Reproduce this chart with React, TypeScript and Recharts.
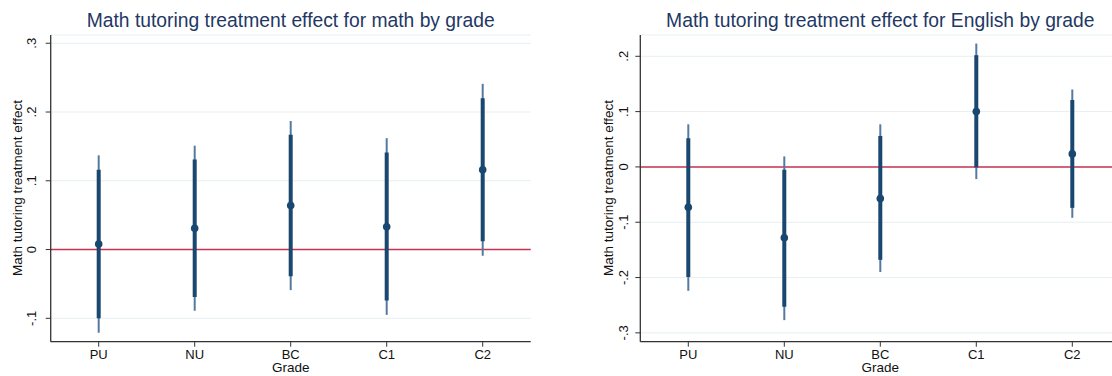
import React from 'react'
import { ComposedChart, Scatter, ErrorBar, XAxis, YAxis, CartesianGrid, ReferenceLine } from 'recharts'

const grades = ['PU', 'NU', 'BC', 'C1', 'C2']

// math outcome
const mathEst = [0.008, 0.031, 0.064, 0.033, 0.116]
const mathLo90 = [-0.1, -0.069, -0.039, -0.074, 0.012]
const mathHi90 = [0.116, 0.131, 0.167, 0.141, 0.22]
const mathLo95 = [-0.121, -0.089, -0.059, -0.095, -0.009]
const mathHi95 = [0.137, 0.151, 0.187, 0.162, 0.241]
const mathTicks = [-0.1, 0, 0.1, 0.2, 0.3]
const mathTickLabels = ['-.1', '0', '.1', '.2', '.3']

// english outcome
const engEst = [-0.073, -0.128, -0.057, 0.1, 0.0235]
const engLo90 = [-0.199, -0.253, -0.168, -0.001, -0.074]
const engHi90 = [0.052, -0.005, 0.056, 0.202, 0.121]
const engLo95 = [-0.224, -0.277, -0.19, -0.022, -0.092]
const engHi95 = [0.077, 0.019, 0.077, 0.223, 0.14]
const engTicks = [-0.3, -0.2, -0.1, 0, 0.1, 0.2]
const engTickLabels = ['-.3', '-.2', '-.1', '0', '.1', '.2']

const NAVY = '#1a476f'
const LIGHT = '#557a9f'
const FONT = '"Liberation Sans", Arial, sans-serif'

function buildRows(est, lo90, hi90, lo95, hi95) {
    return est.map((v, i) => ({
        x: i,
        y: v,
        inner: [v - lo90[i], hi90[i] - v],
        outer: [v - lo95[i], hi95[i] - v],
    }))
}

function Panel({ left, width, yAxisW, title, est, lo90, hi90, lo95, hi95, ticks, tickLabels, domain, yTitleX, tickGap }) {
    const rows = buildRows(est, lo90, hi90, lo95, hi95)
    const plotW = 480
    const centerX = yAxisW + plotW / 2
    const YTick = (p) => {
        const idx = ticks.findIndex(t => Math.abs(t - p.payload.value) < 1e-9)
        return (
            <text transform={`translate(${p.x},${p.y}) rotate(-90)`} textAnchor="middle" dominantBaseline="central"
                fontSize={13} fill="#111" fontFamily={FONT}>{tickLabels[idx]}</text>
        )
    }
    return (
        <div style={{ position: 'absolute', left, top: 0, width, height: 376 }}>
            <div style={{ position: 'absolute', left: centerX - 320, width: 640, top: 8.5, lineHeight: '24px', textAlign: 'center', fontSize: 19.3, color: '#1f3864', fontFamily: FONT, whiteSpace: 'nowrap' }}>{title}</div>
            <div style={{ position: 'absolute', left: yTitleX, top: 188, transform: 'translate(-50%,-50%) rotate(-90deg)', fontSize: 13.5, color: '#111', fontFamily: FONT, whiteSpace: 'nowrap', lineHeight: '16px' }}>Math tutoring treatment effect</div>
            <div style={{ position: 'absolute', left: centerX - 60, width: 120, top: 360.2, lineHeight: '16px', textAlign: 'center', fontSize: 13.5, color: '#111', fontFamily: FONT }}>Grade</div>
            <ComposedChart width={width} height={376} data={rows}
                margin={{ top: 35, right: width - yAxisW - plotW, bottom: 14.3, left: 0 }}>
                <CartesianGrid horizontal vertical={false} stroke="#e6eff1" strokeWidth={1} />
                <XAxis type="number" dataKey="x" domain={[-0.5, 4.5]} ticks={[0, 1, 2, 3, 4]} interval={0}
                    tickFormatter={(v) => grades[v]} height={20} tickSize={5} tickMargin={3.4}
                    axisLine={{ stroke: '#333', strokeWidth: 1.3 }} tickLine={{ stroke: '#333' }}
                    tick={{ fontSize: 13, fill: '#111', fontFamily: FONT }} allowDataOverflow />
                <YAxis type="number" domain={domain} ticks={ticks} interval={0} width={yAxisW} allowDataOverflow
                    tickSize={5} tickMargin={tickGap - 5} axisLine={{ stroke: '#333', strokeWidth: 1.3 }}
                    tickLine={{ stroke: '#333' }} tick={YTick} />
                <ReferenceLine y={0} stroke="#c8324f" strokeWidth={1.5} />
                <Scatter dataKey="y" isAnimationActive={false} fill={NAVY}
                    shape={(p) => <circle cx={p.cx} cy={p.cy} r={3.8} fill={NAVY} />}>
                    <ErrorBar dataKey="outer" direction="y" width={0} stroke={LIGHT} strokeWidth={2} isAnimationActive={false} />
                    <ErrorBar dataKey="inner" direction="y" width={0} stroke={NAVY} strokeWidth={4} isAnimationActive={false} />
                </Scatter>
            </ComposedChart>
        </div>
    )
}

export default function App() {
    return (
        <div style={{ position: 'fixed', left: 0, top: 0, width: 1112, height: 376, overflow: 'hidden', background: '#fff' }}>
            <Panel left={0} width={556} yAxisW={50.7} title="Math tutoring treatment effect for math by grade"
                est={mathEst} lo90={mathLo90} hi90={mathHi90} lo95={mathLo95} hi95={mathHi95}
                ticks={mathTicks} tickLabels={mathTickLabels} domain={[-0.134, 0.312]} yTitleX={18} tickGap={19} />
            <Panel left={556} width={600} yAxisW={84.3} title="Math tutoring treatment effect for English by grade"
                est={engEst} lo90={engLo90} hi90={engHi90} lo95={engLo95} hi95={engHi95}
                ticks={engTicks} tickLabels={engTickLabels} domain={[-0.316, 0.2385]} yTitleX={53} tickGap={17} />
        </div>
    )
}
